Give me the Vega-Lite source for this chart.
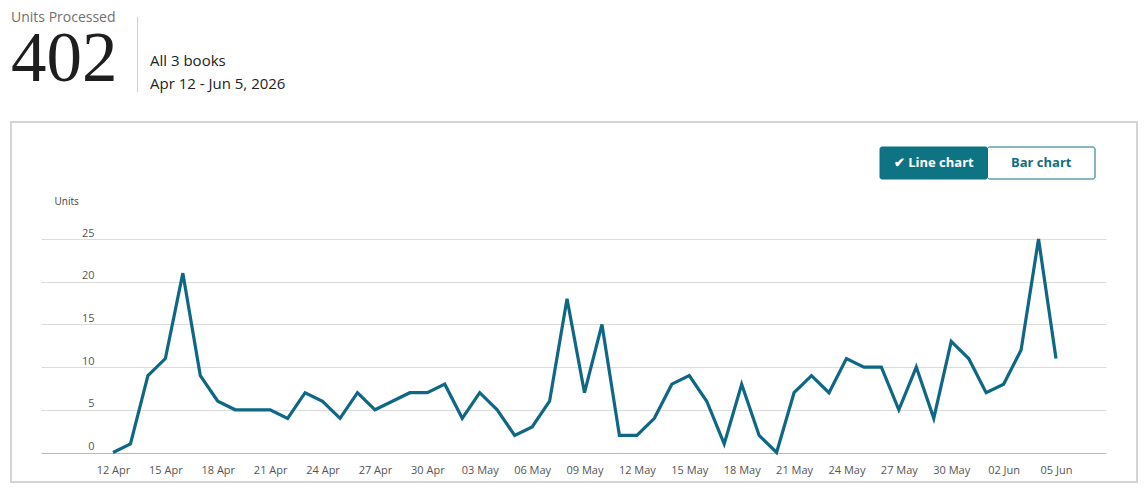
{
  "$schema": "https://vega.github.io/schema/vega-lite/v6.json",
  "padding": {"left": 10, "top": 11, "right": 0, "bottom": 0},
  "background": "white",
  "config": {"font": "Open Sans", "view": {"stroke": null}},
  "spacing": 26,
  "vconcat": [
    {
      "spacing": 10,
      "hconcat": [
        {
          "width": 116,
          "height": 1,
          "data": {"values": []},
          "mark": "point",
          "title": {
            "text": "Units Processed",
            "subtitle": "402",
            "anchor": "start",
            "orient": "bottom",
            "offset": -1,
            "font": "Open Sans",
            "fontSize": 14,
            "fontWeight": "normal",
            "color": "#6f6f6f",
            "subtitleFont": "Liberation Serif",
            "subtitleFontSize": 71,
            "subtitleColor": "#1e1e1e",
            "subtitlePadding": 0
          }
        },
        {
          "spacing": 0,
          "vconcat": [
            {"width": 1, "height": 6, "data": {"values": []}, "mark": "point"},
            {"width": 1, "height": 75, "data": {"values": []}, "mark": "point", "view": {"fill": "#cfcfcf", "stroke": null}}
          ]
        },
        {
          "width": 160,
          "height": 40,
          "data": {"values": []},
          "mark": "point",
          "title": {
            "text": "All 3 books",
            "subtitle": "Apr 12 - Jun 5, 2026",
            "anchor": "start",
            "orient": "bottom",
            "offset": 3,
            "dx": 2,
            "font": "Open Sans",
            "fontSize": 15,
            "fontWeight": "normal",
            "color": "#222222",
            "subtitleFont": "Open Sans",
            "subtitleFontSize": 15,
            "subtitleColor": "#222222",
            "subtitlePadding": 8
          }
        }
      ]
    },
    {
      "width": 1126,
      "height": 360,
      "view": {"stroke": "#d4d4d4", "strokeWidth": 2, "fill": "white"},
      "resolve": {"scale": {"x": "independent", "y": "independent"}},
      "layer": [
        {
          "data": {
            "values": [
              {"date": "2026-04-12", "units": 0},
              {"date": "2026-04-13", "units": 1},
              {"date": "2026-04-14", "units": 9},
              {"date": "2026-04-15", "units": 11},
              {"date": "2026-04-16", "units": 21},
              {"date": "2026-04-17", "units": 9},
              {"date": "2026-04-18", "units": 6},
              {"date": "2026-04-19", "units": 5},
              {"date": "2026-04-20", "units": 5},
              {"date": "2026-04-21", "units": 5},
              {"date": "2026-04-22", "units": 4},
              {"date": "2026-04-23", "units": 7},
              {"date": "2026-04-24", "units": 6},
              {"date": "2026-04-25", "units": 4},
              {"date": "2026-04-26", "units": 7},
              {"date": "2026-04-27", "units": 5},
              {"date": "2026-04-28", "units": 6},
              {"date": "2026-04-29", "units": 7},
              {"date": "2026-04-30", "units": 7},
              {"date": "2026-05-01", "units": 8},
              {"date": "2026-05-02", "units": 4},
              {"date": "2026-05-03", "units": 7},
              {"date": "2026-05-04", "units": 5},
              {"date": "2026-05-05", "units": 2},
              {"date": "2026-05-06", "units": 3},
              {"date": "2026-05-07", "units": 6},
              {"date": "2026-05-08", "units": 18},
              {"date": "2026-05-09", "units": 7},
              {"date": "2026-05-10", "units": 15},
              {"date": "2026-05-11", "units": 2},
              {"date": "2026-05-12", "units": 2},
              {"date": "2026-05-13", "units": 4},
              {"date": "2026-05-14", "units": 8},
              {"date": "2026-05-15", "units": 9},
              {"date": "2026-05-16", "units": 6},
              {"date": "2026-05-17", "units": 1},
              {"date": "2026-05-18", "units": 8},
              {"date": "2026-05-19", "units": 2},
              {"date": "2026-05-20", "units": 0},
              {"date": "2026-05-21", "units": 7},
              {"date": "2026-05-22", "units": 9},
              {"date": "2026-05-23", "units": 7},
              {"date": "2026-05-24", "units": 11},
              {"date": "2026-05-25", "units": 10},
              {"date": "2026-05-26", "units": 10},
              {"date": "2026-05-27", "units": 5},
              {"date": "2026-05-28", "units": 10},
              {"date": "2026-05-29", "units": 4},
              {"date": "2026-05-30", "units": 13},
              {"date": "2026-05-31", "units": 11},
              {"date": "2026-06-01", "units": 7},
              {"date": "2026-06-02", "units": 8},
              {"date": "2026-06-03", "units": 12},
              {"date": "2026-06-04", "units": 25},
              {"date": "2026-06-05", "units": 11}
            ]
          },
          "mark": {"type": "line", "color": "#0e6784", "strokeWidth": 3.2, "strokeJoin": "miter"},
          "encoding": {
            "x": {
              "field": "date",
              "type": "temporal",
              "scale": {
                "type": "utc",
                "domain": [
                  {"year": 2026, "month": 4, "date": 7, "hours": 21, "minutes": 3, "utc": true},
                  {"year": 2026, "month": 6, "date": 7, "hours": 20, "minutes": 43, "utc": true}
                ],
                "range": [30, 1095]
              },
              "axis": {
                "title": null,
                "domain": false,
                "ticks": false,
                "tickSize": 0,
                "grid": false,
                "labelPadding": -12,
                "labelBaseline": "middle",
                "labelFont": "Open Sans",
                "labelFontSize": 11,
                "labelColor": "#555555",
                "labelExpr": "utcFormat(datum.value, '%d %b')",
                "values": [
                  {"year": 2026, "month": 4, "date": 12, "utc": true},
                  {"year": 2026, "month": 4, "date": 15, "utc": true},
                  {"year": 2026, "month": 4, "date": 18, "utc": true},
                  {"year": 2026, "month": 4, "date": 21, "utc": true},
                  {"year": 2026, "month": 4, "date": 24, "utc": true},
                  {"year": 2026, "month": 4, "date": 27, "utc": true},
                  {"year": 2026, "month": 4, "date": 30, "utc": true},
                  {"year": 2026, "month": 5, "date": 3, "utc": true},
                  {"year": 2026, "month": 5, "date": 6, "utc": true},
                  {"year": 2026, "month": 5, "date": 9, "utc": true},
                  {"year": 2026, "month": 5, "date": 12, "utc": true},
                  {"year": 2026, "month": 5, "date": 15, "utc": true},
                  {"year": 2026, "month": 5, "date": 18, "utc": true},
                  {"year": 2026, "month": 5, "date": 21, "utc": true},
                  {"year": 2026, "month": 5, "date": 24, "utc": true},
                  {"year": 2026, "month": 5, "date": 27, "utc": true},
                  {"year": 2026, "month": 5, "date": 30, "utc": true},
                  {"year": 2026, "month": 6, "date": 2, "utc": true},
                  {"year": 2026, "month": 6, "date": 5, "utc": true}
                ]
              }
            },
            "y": {
              "field": "units",
              "type": "quantitative",
              "scale": {"domain": [0, 25], "range": [330.5, 117]},
              "axis": {
                "title": "Units",
                "titleAngle": 0,
                "titleAlign": "left",
                "titleBaseline": "middle",
                "titleX": 43,
                "titleY": 79,
                "titleFont": "Open Sans",
                "titleFontSize": 10,
                "titleFontWeight": "normal",
                "titleColor": "#444444",
                "values": [0, 5, 10, 15, 20, 25],
                "domain": false,
                "ticks": false,
                "tickSize": 0,
                "labelPadding": -83,
                "labelAlign": "right",
                "labelBaseline": "bottom",
                "labelOffset": -1,
                "labelFont": "Open Sans",
                "labelFontSize": 11,
                "labelColor": "#555555",
                "grid": true,
                "gridWidth": 1.2,
                "gridColor": {"condition": {"test": "datum.value === 0", "value": "#b8b8b8"}, "value": "#dcdcdc"}
              }
            }
          }
        },
        {
          "data": {
            "values": [
              {"button": "Line chart", "label": "✔ Line chart", "state": "on", "row": "toggle"},
              {"button": "Bar chart", "label": "Bar chart", "state": "off", "row": "toggle"}
            ]
          },
          "encoding": {
            "x": {
              "field": "button",
              "type": "nominal",
              "sort": null,
              "scale": {"domain": ["Line chart", "Bar chart"], "range": [869, 1084], "paddingInner": 0, "paddingOuter": 0},
              "axis": null
            },
            "y": {
              "field": "row",
              "type": "nominal",
              "scale": {"range": [25, 57], "paddingInner": 0, "paddingOuter": 0},
              "axis": null
            }
          },
          "layer": [
            {
              "mark": {"type": "rect", "stroke": "#0e6f80", "strokeWidth": 1, "cornerRadius": 2},
              "encoding": {
                "fill": {"field": "state", "type": "nominal", "scale": {"domain": ["on", "off"], "range": ["#0e7383", "#ffffff"]}, "legend": null}
              }
            },
            {
              "mark": {"type": "text", "font": "Open Sans", "fontSize": 13, "fontWeight": "bold"},
              "encoding": {
                "text": {"field": "label"},
                "color": {"field": "state", "type": "nominal", "scale": {"domain": ["on", "off"], "range": ["#ffffff", "#0e6f80"]}, "legend": null}
              }
            }
          ]
        }
      ]
    }
  ]
}
